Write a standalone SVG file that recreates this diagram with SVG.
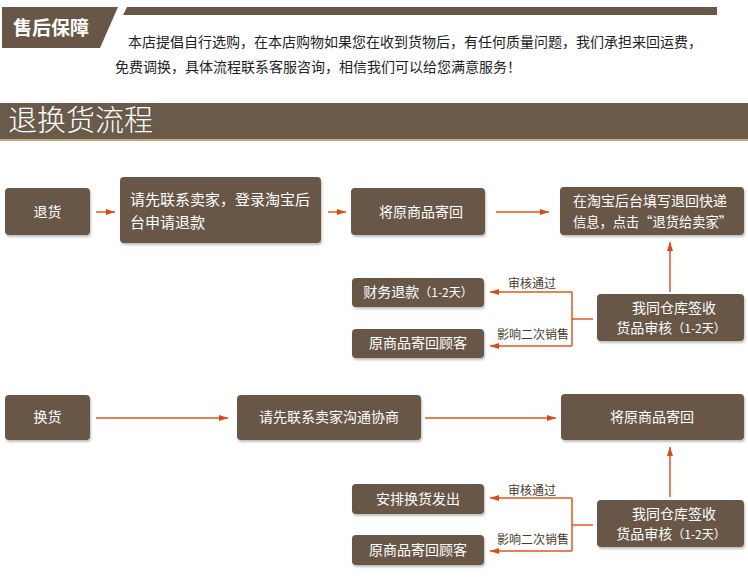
<svg xmlns="http://www.w3.org/2000/svg" width="748" height="580" viewBox="0 0 748 580">
<defs>
<style>
text{font-family:"Noto Sans CJK SC","Liberation Sans",sans-serif;}
.nd{fill:#685747;filter:url(#sh);}
.nt{fill:#ffffff;font-size:14px;}
.nt15{fill:#ffffff;font-size:15px;}
.sm{font-size:12px;}
.ln{stroke:#e2561e;stroke-width:1.5;fill:none;}
.lbl{fill:#4a3a2c;font-size:12px;}
.body{fill:#222;font-size:14px;}
</style>
<filter id="sh" x="-10%" y="-20%" width="120%" height="150%">
<feDropShadow dx="1" dy="2" stdDeviation="1.2" flood-color="#000" flood-opacity="0.25"/>
</filter>
<marker id="ah" markerWidth="10" markerHeight="8" refX="9" refY="4" orient="auto" markerUnits="userSpaceOnUse">
<path d="M0,1 L9,4 L0,7 Z" fill="#dd4810"/>
</marker>
</defs>
<rect width="748" height="580" fill="#ffffff"/>

<g id="header">
<polygon points="2,7 118,7 100,48 2,48" fill="#685747"/>
<text x="13" y="35" fill="#ffffff" font-size="19" font-weight="bold">售后保障</text>
<polygon points="127,7 717,7 717,15 123,15" fill="#685747"/>
<text class="body" x="128" y="47">本店提倡自行选购，在本店购物如果您在收到货物后，有任何质量问题，我们承担来回运费，</text>
<text class="body" x="115" y="72">免费调换，具体流程联系客服咨询，相信我们可以给您满意服务！</text>
</g>

<g id="title">
<rect x="0" y="103" width="748" height="36" fill="#6a5a4a"/>
<rect x="0" y="139" width="748" height="2" fill="#c9a57a"/>
<text x="8" y="131" fill="#ffffff" font-size="29" font-weight="300">退换货流程</text>
</g>

<g id="connectors">
<line class="ln" x1="96" y1="212" x2="115" y2="212" marker-end="url(#ah)"/>
<line class="ln" x1="328" y1="212" x2="346" y2="212" marker-end="url(#ah)"/>
<line class="ln" x1="496" y1="212" x2="549" y2="212" marker-end="url(#ah)"/>
<line class="ln" x1="670" y1="292" x2="670" y2="242" marker-end="url(#ah)"/>
<polyline class="ln" points="593,319 572,319"/>
<line class="ln" x1="572" y1="292" x2="572" y2="346"/>
<line class="ln" x1="572" y1="292" x2="490" y2="292" marker-end="url(#ah)"/>
<line class="ln" x1="572" y1="346" x2="490" y2="346" marker-end="url(#ah)"/>
<text class="lbl" x="508" y="288">审核通过</text>
<text class="lbl" x="497" y="339">影响二次销售</text>

<line class="ln" x1="96" y1="418" x2="228" y2="418" marker-end="url(#ah)"/>
<line class="ln" x1="425" y1="418" x2="556" y2="418" marker-end="url(#ah)"/>
<line class="ln" x1="670" y1="497" x2="670" y2="447" marker-end="url(#ah)"/>
<polyline class="ln" points="593,525 572,525"/>
<line class="ln" x1="572" y1="498" x2="572" y2="551"/>
<line class="ln" x1="572" y1="498" x2="490" y2="498" marker-end="url(#ah)"/>
<line class="ln" x1="572" y1="551" x2="490" y2="551" marker-end="url(#ah)"/>
<text class="lbl" x="508" y="495">审核通过</text>
<text class="lbl" x="497" y="544">影响二次销售</text>
</g>

<g id="n-tuihuo">
<rect class="nd" x="5" y="188" width="85" height="47" rx="4"/>
<text class="nt" x="47.5" y="217" text-anchor="middle">退货</text>
</g>
<g id="n-lianxi1">
<rect class="nd" x="120" y="177" width="201" height="66" rx="4"/>
<text class="nt15" x="130" y="205">请先联系卖家，登录淘宝后</text>
<text class="nt15" x="130" y="228">台申请退款</text>
</g>
<g id="n-jihui1">
<rect class="nd" x="351" y="188" width="134" height="47" rx="4"/>
<text class="nt" x="421" y="217" text-anchor="middle">将原商品寄回</text>
</g>
<g id="n-tianxie">
<rect class="nd" x="560" y="187" width="184" height="48" rx="4"/>
<text class="nt" x="573" y="206" font-size="13.5">在淘宝后台填写退回快递</text>
<text class="nt" x="573" y="227" font-size="13.5" textLength="159" lengthAdjust="spacingAndGlyphs">信息，点击“退货给卖家”</text>
</g>
<g id="n-tuikuan">
<rect class="nd" x="352" y="278" width="132" height="29" rx="4"/>
<text class="nt" x="418" y="297" text-anchor="middle">财务退款<tspan class="sm">（1-2天）</tspan></text>
</g>
<g id="n-guke1">
<rect class="nd" x="352" y="329" width="132" height="29" rx="4"/>
<text class="nt" x="418" y="348" text-anchor="middle">原商品寄回顾客</text>
</g>
<g id="n-qianshou1">
<rect class="nd" x="597" y="294" width="147" height="47" rx="4"/>
<text class="nt" x="674" y="313" text-anchor="middle">我同仓库签收</text>
<text class="nt" x="671" y="333" text-anchor="middle">货品审核<tspan class="sm">（1-2天）</tspan></text>
</g>

<g id="n-huanhuo">
<rect class="nd" x="5" y="395" width="85" height="45" rx="4"/>
<text class="nt" x="47.5" y="422" text-anchor="middle">换货</text>
</g>
<g id="n-lianxi2">
<rect class="nd" x="237" y="395" width="184" height="45" rx="4"/>
<text class="nt" x="329" y="422" text-anchor="middle">请先联系卖家沟通协商</text>
</g>
<g id="n-jihui2">
<rect class="nd" x="561" y="394" width="183" height="46" rx="4"/>
<text class="nt" x="652" y="422" text-anchor="middle">将原商品寄回</text>
</g>
<g id="n-fachu">
<rect class="nd" x="352" y="484" width="132" height="30" rx="4"/>
<text class="nt" x="418" y="504" text-anchor="middle">安排换货发出</text>
</g>
<g id="n-guke2">
<rect class="nd" x="352" y="535" width="132" height="30" rx="4"/>
<text class="nt" x="418" y="555" text-anchor="middle">原商品寄回顾客</text>
</g>
<g id="n-qianshou2">
<rect class="nd" x="597" y="500" width="147" height="47" rx="4"/>
<text class="nt" x="674" y="519" text-anchor="middle">我同仓库签收</text>
<text class="nt" x="671" y="539" text-anchor="middle">货品审核<tspan class="sm">（1-2天）</tspan></text>
</g>
</svg>
